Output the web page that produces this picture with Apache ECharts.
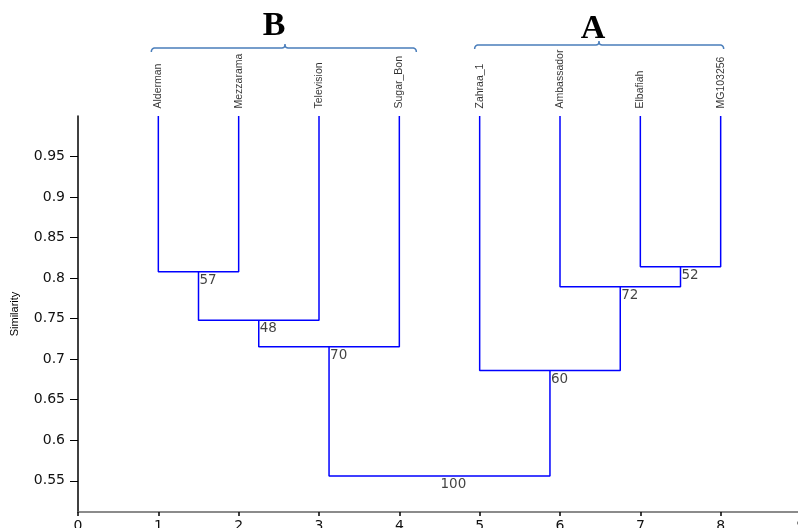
<!DOCTYPE html>
<html><head><meta charset="utf-8">
<script src="https://cdn.jsdelivr.net/npm/echarts@6/dist/echarts.min.js"></script>
<style>html,body{margin:0;padding:0;background:#fff}#c{width:798px;height:528px}</style>
</head><body><div id="c"></div>
<script>
// ---- data ----
const leafNames = ['Alderman','Mezzarama','Television','Sugar_Bon','Zahraa_1','Ambassador','Elbafiah','MG103256'];
const leafPos = [1, 2, 3, 4, 5, 6, 7, 8];
const leafSim = 1.0;
// children: 0-7 = leaves, 8+ = earlier merges (8 + merge index)
const mergeLeft  = [0, 8, 9, 6, 5, 4, 10];
const mergeRight = [1, 2, 3, 7, 11, 12, 13];
const mergeSim   = [0.808, 0.748, 0.7155, 0.814, 0.7895, 0.686, 0.556];
const bootstrap  = [57, 48, 70, 52, 72, 60, 100];
const yTicks = [0.55, 0.6, 0.65, 0.7, 0.75, 0.8, 0.85, 0.9, 0.95];
const xTicks = [0, 1, 2, 3, 4, 5, 6, 7, 8, 9];
const clusterNames = ['B', 'A'];
const clusterFirstLeaf = [0, 4];
const clusterLastLeaf = [3, 7];

// ---- build ----
const pos = leafPos.slice();
const sim = leafPos.map(() => leafSim);
mergeSim.forEach((h, i) => {
  pos.push((pos[mergeLeft[i]] + pos[mergeRight[i]]) / 2);
  sim.push(h);
});

const numFont = "'DejaVu Sans', sans-serif";
const narrowFont = "'Liberation Sans', Arial, sans-serif";

const series = mergeSim.map((h, i) => {
  const l = mergeLeft[i], r = mergeRight[i];
  return {
    type: 'line', silent: true, symbol: 'none', animation: false,
    lineStyle: { color: '#0000ff', width: 1.5 },
    data: [[pos[l], sim[l]], [pos[l], h], [pos[r], h], [pos[r], sim[r]]]
  };
});

series.push({
  type: 'scatter', silent: true, animation: false, symbolSize: 1,
  itemStyle: { color: 'rgba(0,0,0,0)' },
  data: leafPos.map(x => [x, leafSim]),
  label: {
    show: true, formatter: p => leafNames[p.dataIndex],
    position: 'top', distance: 7, rotate: 90, align: 'left', verticalAlign: 'middle',
    fontFamily: narrowFont, fontSize: 10.5, color: '#000'
  }
});

series.push({
  type: 'scatter', silent: true, animation: false, symbolSize: 1,
  itemStyle: { color: 'rgba(0,0,0,0)' },
  data: mergeSim.map((h, i) => [pos[8 + i], h]),
  label: {
    show: true, formatter: p => String(bootstrap[p.dataIndex]),
    position: [1.5, 2], align: 'left', verticalAlign: 'top',
    fontFamily: numFont, fontSize: 13.5, color: '#111'
  }
});

const chart = echarts.init(document.getElementById('c'), null, { renderer: 'canvas' });
chart.setOption({
  animation: false,
  backgroundColor: '#fff',
  grid: { left: 78, top: 116, width: 723, height: 396, containLabel: false, outerBoundsMode: 'none' },
  xAxis: {
    type: 'value', min: 0, max: 9,
    axisLine: { show: true, onZero: false, lineStyle: { color: '#666', width: 1.5 } },
    axisTick: { show: true, length: 4, lineStyle: { color: '#000', width: 1.5 }, customValues: xTicks },
    axisLabel: { customValues: xTicks, formatter: v => String(v), margin: 7, fontFamily: numFont, fontSize: 14, color: '#111', hideOverlap: false },
    splitLine: { show: false }
  },
  yAxis: {
    type: 'value', min: 0.5115, max: 1.0,
    name: 'Similarity', nameLocation: 'middle', nameGap: 58, nameRotate: 90,
    nameTextStyle: { fontFamily: narrowFont, fontSize: 11, color: '#000' },
    axisLine: { show: true, onZero: false, lineStyle: { color: '#000', width: 1.5 } },
    axisTick: { show: true, length: 8, lineStyle: { color: '#000', width: 1 }, customValues: yTicks },
    axisLabel: { customValues: yTicks, formatter: v => String(+(+v).toFixed(2)), margin: 13, fontFamily: numFont, fontSize: 14, color: '#111' },
    splitLine: { show: false }
  },
  series: series
});

// ---- cluster brackets (annotations) ----
const bracketStyle = [
  { padL: 7, padR: 17, y: 48, cx: 285, tx: 274, ty: 26 },
  { padL: 5, padR: 3, y: 45, cx: 599, tx: 593, ty: 29 }
];
function quad(p0, p1, p2, n) {
  const out = [];
  for (let k = 0; k <= n; k++) {
    const t = k / n, a = (1 - t) * (1 - t), b = 2 * (1 - t) * t, c = t * t;
    out.push([a * p0[0] + b * p1[0] + c * p2[0], a * p0[1] + b * p1[1] + c * p2[1]]);
  }
  return out;
}
const graphics = [];
clusterNames.forEach((name, i) => {
  const s = bracketStyle[i];
  const x1 = chart.convertToPixel({ gridIndex: 0 }, [leafPos[clusterFirstLeaf[i]], leafSim])[0] - s.padL;
  const x2 = chart.convertToPixel({ gridIndex: 0 }, [leafPos[clusterLastLeaf[i]], leafSim])[0] + s.padR;
  const y = s.y, cx = s.cx;
  const pts = [].concat(
    quad([x1, y + 4], [x1, y], [x1 + 4, y], 6),
    quad([cx - 3, y], [cx, y], [cx, y - 4], 5),
    quad([cx, y - 4], [cx, y], [cx + 3, y], 5),
    quad([x2 - 4, y], [x2, y], [x2, y + 4], 6)
  );
  graphics.push({
    type: 'polyline', silent: true,
    shape: { points: pts },
    style: { fill: null, stroke: '#4a7ebb', lineWidth: 1.5 }
  });
  graphics.push({
    type: 'text', silent: true, x: s.tx, y: s.ty,
    style: { text: name, font: "bold 34px 'Liberation Serif', 'DejaVu Serif', serif", fill: '#000', align: 'center', verticalAlign: 'middle' }
  });
});
chart.setOption({ graphic: graphics });
</script>
</body></html>
